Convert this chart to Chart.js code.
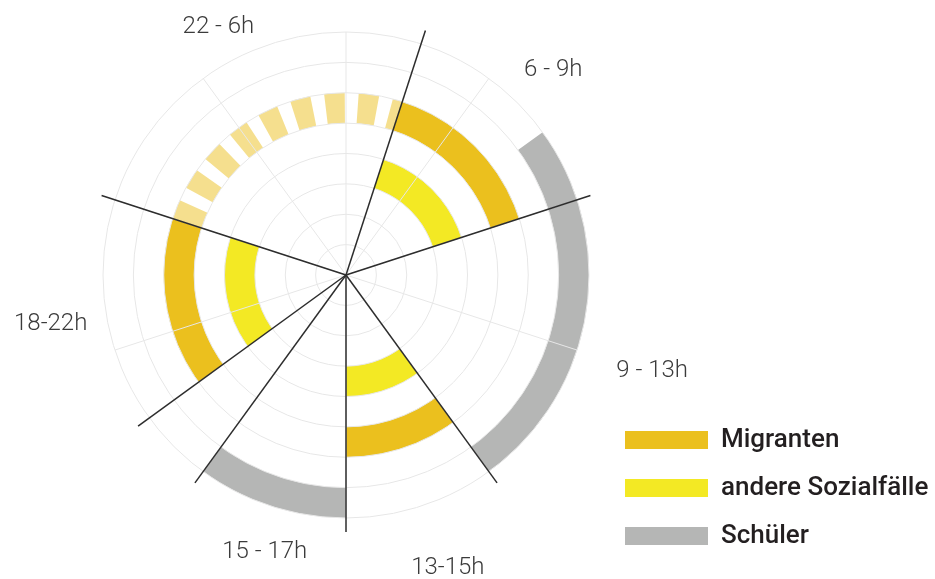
<!DOCTYPE html>
<html lang="de">
<head>
<meta charset="utf-8">
<title>Wer ist wann unterwegs?</title>
<script src="https://cdn.jsdelivr.net/npm/chart.js@4.4.1/dist/chart.umd.min.js"></script>
<style>
  html, body { margin: 0; padding: 0; background: #ffffff; }
  canvas { display: block; }
</style>
</head>
<body>
<canvas id="chart" width="935" height="579"></canvas>
<script>
// ---- Daten -------------------------------------------------------------
// Tageszeit-Sektoren im Uhrzeigersinn ab 22 Uhr, Breite in Schritten (20 Schritte = Vollkreis)
const sectorLabels = ['22 - 6h', '6 - 9h', '9 - 13h', '13-15h', '15 - 17h', '', '18-22h'];
const sectorSteps  = [5, 3, 4, 2, 2, 1, 3];

// Anwesenheit je Gruppe: [von, bis] in Schritten ab 22 Uhr
const migranten      = [[5, 8], [12, 14], [17, 20]];
const migrantenNacht = [[0, 5]];
const sozialfaelle   = [[5, 8], [12, 14], [17, 20]];
const schueler       = [[7, 12], [14, 16]];

const legendNames = ['Migranten', 'andere Sozialfälle', 'Schüler'];

// ---- Gestaltung --------------------------------------------------------
const COLORS = {
  migranten: '#EBC01E',
  migrantenNacht: 'rgba(235, 192, 30, 0.5)',
  sozial: '#F3E924',
  schueler: '#B5B6B5',
  none: 'rgba(0, 0, 0, 0)',
  grid: '#e7e7e7',
  divider: '#2d2d2d',
  text: '#3b3b3b',
  legendText: '#231f20'
};
const GRID_MAX = 8;                 // Ringe des Rasters
const INNER_BAND = 3;               // innerster belegter Ring
const SPOKES = 10;                  // helle Speichen
const START_DEG = -72;              // 22 Uhr liegt bei 288°
const NIGHT_DASH = { on: 6.5, off: 4.4, phase: 0.3 }; // Strichelung in Grad
// Lage der Sektorbeschriftung: Abstand vom Mittelpunkt (px) und Drehung gegenüber der Sektormitte (Grad)
const LABEL_PLACE = {
  '22 - 6h': { dist: 281, turn: 0 },
  '6 - 9h':  { dist: 293, turn: 0 },
  '9 - 13h': { dist: 320, turn: -1.1 },
  '13-15h':  { dist: 308, turn: -1.3 },
  '15 - 17h': { dist: 286, turn: -1.5 },
  '18-22h':  { dist: 299, turn: 0 }
};

const TOTAL_STEPS = sectorSteps.reduce((a, b) => a + b, 0);
const DEG_PER_STEP = 360 / TOTAL_STEPS;

// Sektorgrenzen (Index der Schritte) für die schwarzen Trennlinien
const boundaries = [];
sectorSteps.reduce((acc, s) => { boundaries.push(acc); return acc + s; }, 0);

// Ringbelegung: Band (Skalenwert der Innenkante) -> Abschnitte
const rings = [
  { band: 7, parts: [{ spans: schueler, color: COLORS.schueler }] },
  { band: 5, parts: [{ spans: migranten, color: COLORS.migranten },
                     { spans: migrantenNacht, color: COLORS.migrantenNacht, dash: NIGHT_DASH }] },
  { band: 3, parts: [{ spans: sozialfaelle, color: COLORS.sozial }] }
];

// Einen Ring als Folge von Bogenstücken (Grad) aufbauen
function buildRing(ring) {
  const segs = [];
  (ring ? ring.parts : []).forEach(part => {
    part.spans.forEach(([from, to]) => {
      const a = from * DEG_PER_STEP, b = to * DEG_PER_STEP;
      if (part.dash) {
        for (let pos = a - part.dash.phase; pos < b; pos += part.dash.on + part.dash.off) {
          const s = Math.max(pos, a), e = Math.min(pos + part.dash.on, b);
          if (e > s) segs.push([s, e, part.color]);
        }
      } else {
        segs.push([a, b, part.color]);
      }
    });
  });
  segs.sort((x, y) => x[0] - y[0]);
  const data = [], colors = [];
  let cursor = 0;
  segs.forEach(([s, e, c]) => {
    if (s > cursor) { data.push(s - cursor); colors.push(COLORS.none); }
    data.push(e - s); colors.push(c);
    cursor = e;
  });
  if (cursor < 360) { data.push(360 - cursor); colors.push(COLORS.none); }
  return { data, backgroundColor: colors, borderWidth: 0, hoverBorderWidth: 0, hoverOffset: 0 };
}

// Datensätze von außen nach innen, ein Datensatz je Rasterband
const datasets = [];
for (let band = GRID_MAX - 1; band >= INNER_BAND; band--) {
  datasets.push(buildRing(rings.find(r => r.band === band)));
}

const legendColors = [COLORS.migranten, COLORS.sozial, COLORS.schueler];

// Beschriftung der Tageszeit-Sektoren
const sectorLabelPlugin = {
  id: 'sectorLabels',
  afterDraw(chart) {
    const scale = chart.scales.dividers;
    const ctx = chart.ctx;
    ctx.save();
    ctx.font = '300 24px Roboto';
    ctx.fillStyle = COLORS.text;
    ctx.textAlign = 'center';
    ctx.textBaseline = 'alphabetic';
    let start = 0;
    sectorLabels.forEach((label, i) => {
      const mid = start + sectorSteps[i] / 2;
      start += sectorSteps[i];
      if (!label) return;
      const place = LABEL_PLACE[label];
      const p = scale.getPointPosition(mid + place.turn / DEG_PER_STEP, place.dist);
      ctx.fillText(label, p.x, p.y + 8.5);
    });
    ctx.restore();
  }
};

new Chart(document.getElementById('chart'), {
  type: 'doughnut',
  data: { labels: [], datasets },
  options: {
    responsive: false,
    animation: false,
    devicePixelRatio: 1,
    events: [],
    rotation: START_DEG,
    circumference: 360,
    radius: (c) => c.chart.scales.grid.getDistanceFromCenterForValue(GRID_MAX),
    cutout: (100 * INNER_BAND / GRID_MAX) + '%',
    spacing: 0,
    layout: { padding: { left: 89, right: 0, top: 15, bottom: 8 } },
    scales: {
      grid: {
        type: 'radialLinear',
        axis: 'r',
        min: 0,
        max: GRID_MAX,
        startAngle: 0,
        labels: new Array(SPOKES).fill(''),
        grid: { circular: true, color: COLORS.grid, lineWidth: 1, z: 1 },
        angleLines: { display: true, color: COLORS.grid, lineWidth: 1 },
        pointLabels: { display: false },
        ticks: {
          display: true, stepSize: 1, color: COLORS.none, showLabelBackdrop: false,
          font: { size: 24 }, backdropPadding: 2, callback: () => ''
        }
      },
      dividers: {
        type: 'radialLinear',
        axis: 'r',
        min: 0,
        max: 1,
        startAngle: START_DEG,
        labels: new Array(TOTAL_STEPS).fill(''),
        grid: { display: false, z: 2 },
        angleLines: {
          display: true,
          color: (c) => boundaries.includes(c.index) ? COLORS.divider : COLORS.none,
          lineWidth: (c) => boundaries.includes(c.index) ? 1.5 : 0
        },
        pointLabels: { display: false },
        ticks: { display: false }
      }
    },
    plugins: {
      tooltip: { enabled: false },
      title: {
        display: true, position: 'bottom', fullSize: false, text: '',
        padding: 0, font: { size: 30, lineHeight: 1.2 }
      },
      legend: {
        display: true,
        position: 'right',
        align: 'end',
        maxWidth: 332,
        labels: {
          boxWidth: 83,
          boxHeight: 18,
          padding: 22,
          textAlign: 'left',
          color: COLORS.legendText,
          font: { family: 'Roboto', size: 26, weight: '500' },
          generateLabels: () => legendNames.map((name, i) => ({
            text: name,
            fillStyle: legendColors[i],
            strokeStyle: legendColors[i],
            fontColor: COLORS.legendText,
            lineWidth: 0,
            hidden: false,
            textAlign: 'left',
            index: i
          }))
        }
      }
    }
  },
  plugins: [sectorLabelPlugin]
});
</script>
</body>
</html>
